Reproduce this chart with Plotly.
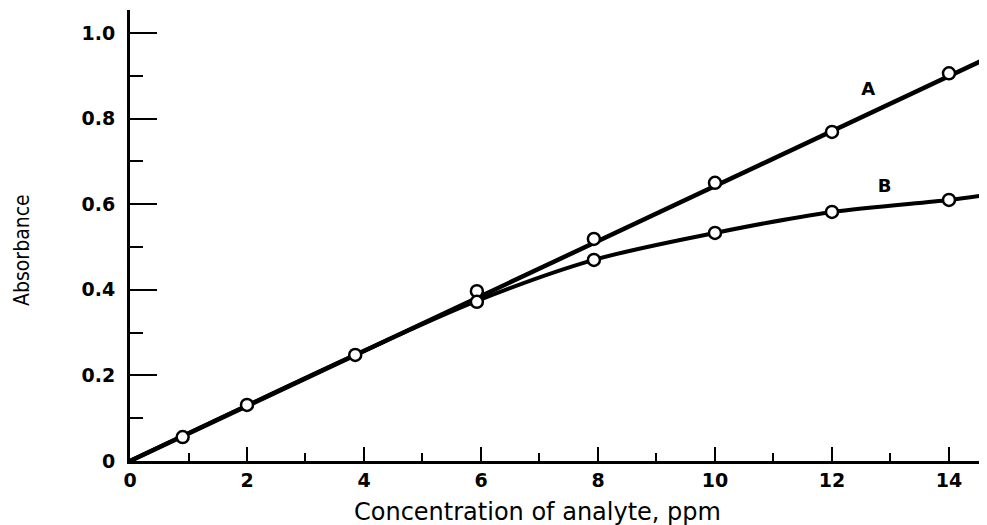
import plotly.graph_objects as go

# ---- data ----
conc_a = [0.9, 2.0, 3.85, 5.93, 7.93, 10.0, 12.0, 14.0]
abs_a = [0.056, 0.131, 0.248, 0.397, 0.519, 0.650, 0.769, 0.906]

conc_b = [5.93, 7.93, 10.0, 12.0, 14.0]
abs_b = [0.372, 0.470, 0.533, 0.582, 0.610]

line_a_x = [0.0, 14.55]
line_a_y = [0.0, 0.935]

curve_b_x = [0.0, 3.85, 5.93, 7.93, 10.0, 12.0, 14.0, 14.65]
curve_b_y = [0.0, 0.248, 0.374, 0.470, 0.533, 0.582, 0.610, 0.622]

x_ticks = [0, 2, 4, 6, 8, 10, 12, 14]
x_ticklabels = ["0", "2", "4", "6", "8", "10", "12", "14"]
y_ticks = [0, 0.2, 0.4, 0.6, 0.8, 1.0]
y_ticklabels = ["0", "0.2", "0.4", "0.6", "0.8", "1.0"]

curve_labels = ["A", "B"]
label_x = [12.62, 12.9]
label_y = [0.867, 0.64]

x_title = "Concentration of analyte, ppm"
y_title = "Absorbance"

fig = go.Figure()

fig.add_trace(go.Scatter(x=line_a_x, y=line_a_y, mode="lines",
                         line=dict(color="black", width=4.5),
                         showlegend=False, hoverinfo="skip"))
fig.add_trace(go.Scatter(x=curve_b_x, y=curve_b_y, mode="lines",
                         line=dict(color="black", width=4, shape="spline", smoothing=0.9),
                         showlegend=False, hoverinfo="skip"))

marker_style = dict(symbol="circle", size=12, color="white",
                    line=dict(color="black", width=2.5))
fig.add_trace(go.Scatter(x=conc_a, y=abs_a, mode="markers", marker=marker_style,
                         showlegend=False, name="A"))
fig.add_trace(go.Scatter(x=conc_b, y=abs_b, mode="markers", marker=marker_style,
                         showlegend=False, name="B"))

fig.add_trace(go.Scatter(x=label_x, y=label_y, mode="text", text=curve_labels,
                         textfont=dict(family="DejaVu Sans", size=18, color="black", weight="bold"),
                         showlegend=False, hoverinfo="skip"))

# page body has an 8px default margin, so the figure is sized to fit the window
fig.update_layout(
    width=979, height=517,
    margin=dict(l=122, r=0, t=2, b=64, autoexpand=False),
    paper_bgcolor="white", plot_bgcolor="white",
    font=dict(family="DejaVu Sans", color="black"),
    xaxis=dict(
        range=[0, 14.65], showgrid=False, zeroline=False,
        showline=True, linecolor="black", linewidth=3,
        tickmode="array", tickvals=x_ticks, ticktext=x_ticklabels,
        ticks="inside", ticklen=14, tickwidth=2, tickcolor="black",
        minor=dict(dtick=1, ticks="inside", ticklen=8, tickwidth=2, tickcolor="black", showgrid=False),
        tickfont=dict(family="DejaVu Sans", size=19, weight="bold"),
    ),
    yaxis=dict(
        range=[0, 1.054], showgrid=False, zeroline=False,
        showline=True, linecolor="black", linewidth=3,
        tickmode="array", tickvals=y_ticks, ticktext=y_ticklabels,
        ticks="inside", ticklen=27, tickwidth=2, tickcolor="black",
        minor=dict(dtick=0.1, ticks="inside", ticklen=13, tickwidth=2, tickcolor="black", showgrid=False),
        tickfont=dict(family="DejaVu Sans", size=19, weight="bold"),
        ticklabelstandoff=8,
    ),
    annotations=[
        dict(text=y_title, textangle=-90, showarrow=False,
             xref="paper", yref="paper", x=-0.126, y=0.468,
             xanchor="center", yanchor="middle",
             font=dict(family="Liberation Sans Narrow, DejaVu Sans Condensed, Arial Narrow, sans-serif", size=21)),
        dict(text=x_title, showarrow=False,
             xref="paper", yref="paper", x=0.476, y=-0.113,
             xanchor="center", yanchor="middle",
             font=dict(family="DejaVu Sans", size=24)),
    ],
)

fig.write_html("out.html")
